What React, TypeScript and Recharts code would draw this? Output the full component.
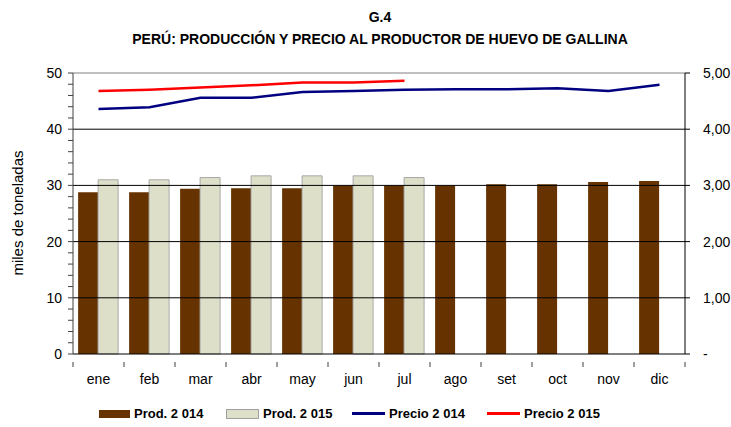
import { ComposedChart, Bar, Line, XAxis, YAxis, ReferenceLine } from 'recharts';

const months = ['ene', 'feb', 'mar', 'abr', 'may', 'jun', 'jul', 'ago', 'set', 'oct', 'nov', 'dic'];
const prod2014 = [28.8, 28.8, 29.4, 29.5, 29.5, 30.0, 30.0, 30.0, 30.2, 30.2, 30.6, 30.8];
const prod2015 = [31.0, 31.0, 31.4, 31.7, 31.7, 31.7, 31.4, null, null, null, null, null];
const precio2014 = [4.36, 4.39, 4.56, 4.56, 4.66, 4.68, 4.70, 4.71, 4.71, 4.73, 4.68, 4.79];
const precio2015 = [4.68, 4.70, 4.74, 4.78, 4.83, 4.83, 4.86, null, null, null, null, null];

const leftTicks = [0, 2, 4, 6, 8, 10, 12, 14, 16, 18, 20, 22, 24, 26, 28, 30, 32, 34, 36, 38, 40, 42, 44, 46, 48, 50];
const rightTicks = [0, 1, 2, 3, 4, 5];
const gridLines = [10, 20, 30, 40];

const data = months.map((m, i) => ({
  mes: m,
  p14: prod2014[i],
  p15: prod2015[i],
  pr14: precio2014[i],
  pr15: precio2015[i],
}));

const font = 'Liberation Sans, Arial, sans-serif';
const BROWN = '#663300';
const LIGHT = '#dddfc8';
const BLUE = '#000080';
const RED = '#ff0000';

const W = 731;
const H = 427;
const M = { top: 73, right: 6, left: 13, bottom: 43 };
const LEFT_W = 60;
const RIGHT_W = 40;
const band = (W - M.left - M.right - LEFT_W - RIGHT_W) / months.length;

// month label plus the category-boundary tick marks like the original
function MonthTick(props: any) {
  const { x, y, payload, index } = props;
  const half = band / 2;
  return (
    <g>
      <line x1={x - half} x2={x - half} y1={y} y2={y + 5} stroke="#404040" />
      {index === months.length - 1 && <line x1={x + half} x2={x + half} y1={y} y2={y + 5} stroke="#404040" />}
      <text x={x} y={y + 22} textAnchor="middle" fontSize={14} fontFamily={font} fill="#000">
        {payload.value}
      </text>
    </g>
  );
}

function LegendItem({ kind, color, label }: { kind: 'box' | 'line'; color: string; label: string }) {
  return (
    <div style={{ display: 'flex', alignItems: 'center' }}>
      {kind === 'box' ? (
        <div style={{ width: 31, height: 8, background: color, border: color === LIGHT ? '1px solid #a0a0a0' : 'none', marginRight: 4 }} />
      ) : (
        <div style={{ width: 33, height: 3, background: color, marginRight: 4 }} />
      )}
      <span>{label}</span>
    </div>
  );
}

export default function App() {
  return (
    <div style={{ position: 'absolute', left: 0, top: 0, width: W, height: H, background: '#fff', fontFamily: font }}>
      <div style={{ position: 'absolute', top: 9, left: 0, width: 760, textAlign: 'center', fontWeight: 'bold', fontSize: 14 }}>G.4</div>
      <div style={{ position: 'absolute', top: 31, left: 0, width: 760, textAlign: 'center', fontWeight: 'bold', fontSize: 14 }}>
        PERÚ: PRODUCCIÓN Y PRECIO AL PRODUCTOR DE HUEVO DE GALLINA
      </div>
      <div
        style={{
          position: 'absolute',
          left: 17,
          top: 213,
          fontSize: 15,
          transform: 'translate(-50%, -50%) rotate(-90deg)',
          whiteSpace: 'nowrap',
        }}
      >
        miles de toneladas
      </div>
      <div style={{ position: 'absolute', left: 0, top: 0 }}>
        <ComposedChart width={W} height={H} data={data} margin={M} barCategoryGap="10%" barGap={0}>
          <XAxis
            dataKey="mes"
            tickLine={false}
            axisLine={{ stroke: '#000' }}
            tick={<MonthTick />}
            height={30}
            interval={0}
          />
          <YAxis
            yAxisId="l"
            domain={[0, 50]}
            ticks={leftTicks}
            interval={0}
            width={LEFT_W}
            tickSize={5}
            tickMargin={6}
            tickFormatter={(v: number) => (v % 10 === 0 ? String(v) : '')}
            axisLine={{ stroke: '#404040' }}
            tickLine={{ stroke: '#404040' }}
            tick={{ fill: '#000', fontSize: 14, fontFamily: font }}
          />
          <YAxis
            yAxisId="r"
            orientation="right"
            domain={[0, 5]}
            ticks={rightTicks}
            interval={0}
            width={RIGHT_W}
            tickSize={5}
            tickMargin={13}
            tickFormatter={(v: number) => (v === 0 ? '-' : v.toFixed(2).replace('.', ','))}
            axisLine={{ stroke: '#000' }}
            tickLine={{ stroke: '#000' }}
            tick={{ fill: '#000', fontSize: 14, fontFamily: font, textAnchor: 'start' }}
          />
          {gridLines.map((g) => (
            <ReferenceLine key={g} yAxisId="l" y={g} stroke="#000" strokeWidth={1} />
          ))}
          <ReferenceLine yAxisId="l" y={50} stroke="#808080" strokeWidth={1} />
          <Bar yAxisId="l" dataKey="p14" fill={BROWN} isAnimationActive={false} />
          <Bar yAxisId="l" dataKey="p15" fill={LIGHT} stroke="#a8a8a8" strokeWidth={1} isAnimationActive={false} />
          <Line yAxisId="r" dataKey="pr14" stroke={BLUE} strokeWidth={2.5} dot={false} isAnimationActive={false} />
          <Line yAxisId="r" dataKey="pr15" stroke={RED} strokeWidth={2.5} dot={false} isAnimationActive={false} />
        </ComposedChart>
      </div>
      <div style={{ position: 'absolute', top: 406, left: 99, display: 'flex', fontSize: 13, fontWeight: 'bold' }}>
        <div style={{ width: 127 }}><LegendItem kind="box" color={BROWN} label="Prod. 2 014" /></div>
        <div style={{ width: 126 }}><LegendItem kind="box" color={LIGHT} label="Prod. 2 015" /></div>
        <div style={{ width: 135 }}><LegendItem kind="line" color={BLUE} label="Precio 2 014" /></div>
        <div><LegendItem kind="line" color={RED} label="Precio 2 015" /></div>
      </div>
    </div>
  );
}
